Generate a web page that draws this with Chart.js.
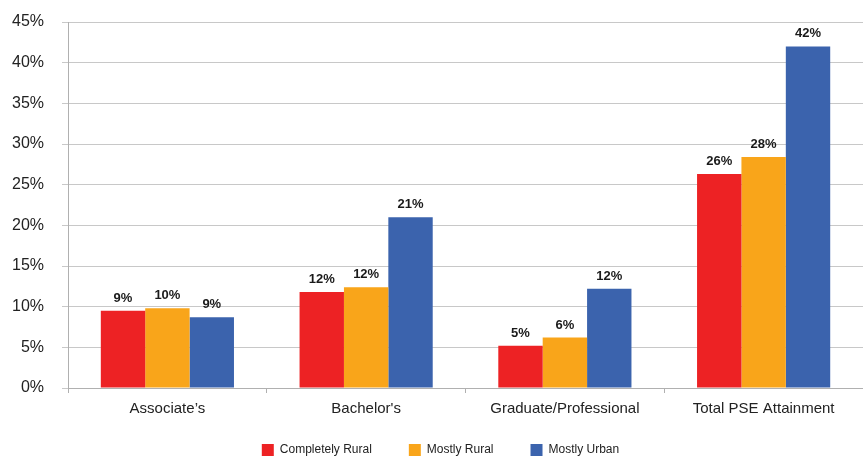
<!DOCTYPE html>
<html>
<head>
<meta charset="utf-8">
<script src="https://cdn.jsdelivr.net/npm/chart.js@4/dist/chart.umd.min.js"></script>
<style>
  html, body { margin: 0; padding: 0; background: #ffffff; }
  #wrap { width: 863px; height: 456px; position: relative; }
</style>
</head>
<body>
<div id="wrap"><canvas id="c"></canvas></div>
<script>
const categories = ["Associate\u2019s", "Bachelor's", "Graduate/Professional", "Total PSE Attainment"];
const completelyRural = [9.5, 11.8, 5.2, 26.3];
const mostlyRural = [9.8, 12.4, 6.2, 28.4];
const mostlyUrban = [8.7, 21.0, 12.2, 42.0];
const completelyRuralLabels = ["9%", "12%", "5%", "26%"];
const mostlyRuralLabels = ["10%", "12%", "6%", "28%"];
const mostlyUrbanLabels = ["9%", "21%", "12%", "42%"];
const yTicks = [0, 5, 10, 15, 20, 25, 30, 35, 40, 45];

const valueLabelPlugin = {
  id: 'valueLabels',
  afterLayout(chart) {
    if (chart.legend) { chart.legend.left += 12; chart.legend.right += 12; }
  },
  afterDatasetsDraw(chart) {
    const ctx = chart.ctx;
    ctx.save();
    ctx.font = 'bold 13px "Liberation Sans", Arial, sans-serif';
    ctx.fillStyle = '#1a1a1a';
    ctx.textAlign = 'center';
    ctx.textBaseline = 'bottom';
    chart.data.datasets.forEach((ds, i) => {
      const meta = chart.getDatasetMeta(i);
      meta.data.forEach((bar, j) => {
        ctx.fillText(ds.valueLabels[j], bar.x, bar.y - 6);
      });
    });
    ctx.restore();
  }
};

new Chart(document.getElementById('c'), {
  type: 'bar',
  data: {
    labels: categories,
    datasets: [
      { label: 'Completely Rural', data: completelyRural, valueLabels: completelyRuralLabels, backgroundColor: '#ED2224' },
      { label: 'Mostly Rural', data: mostlyRural, valueLabels: mostlyRuralLabels, backgroundColor: '#F9A51A' },
      { label: 'Mostly Urban', data: mostlyUrban, valueLabels: mostlyUrbanLabels, backgroundColor: '#3B63AD' }
    ]
  },
  options: {
    responsive: true,
    maintainAspectRatio: false,
    animation: false,
    layout: { padding: { top: 22, right: 0, left: -6, bottom: -10 } },
    datasets: { bar: { categoryPercentage: 0.67, barPercentage: 1.0 } },
    plugins: {
      legend: {
        position: 'bottom',
        labels: {
          boxWidth: 12, boxHeight: 12, padding: 37,
          color: '#222',
          font: { family: '"Liberation Sans", Arial, sans-serif', size: 12 }
        }
      },
      tooltip: { enabled: false }
    },
    scales: {
      x: {
        afterFit(scale) {
          scale.height -= 18;
          scale._computeLabelArea = function () { return undefined; };
        },
        grid: { drawOnChartArea: false, tickLength: 5, color: '#b0b0b0' },
        border: { color: '#b0b0b0' },
        ticks: { color: '#222', padding: 7, font: { family: '"Liberation Sans", Arial, sans-serif', size: 15 } }
      },
      y: {
        min: 0, max: 45,
        afterBuildTicks(axis) { axis.ticks = yTicks.map(v => ({ value: v })); },
        afterFit(scale) { scale.paddingTop = 0; scale.paddingBottom = 0; },
        grid: { color: '#c8c8c8', tickLength: 6 },
        border: { color: '#b0b0b0' },
        ticks: {
          color: '#222', padding: 18,
          font: { family: '"Liberation Sans", Arial, sans-serif', size: 16 },
          callback: (v) => v + '%'
        }
      }
    }
  },
  plugins: [valueLabelPlugin]
});
</script>
</body>
</html>
